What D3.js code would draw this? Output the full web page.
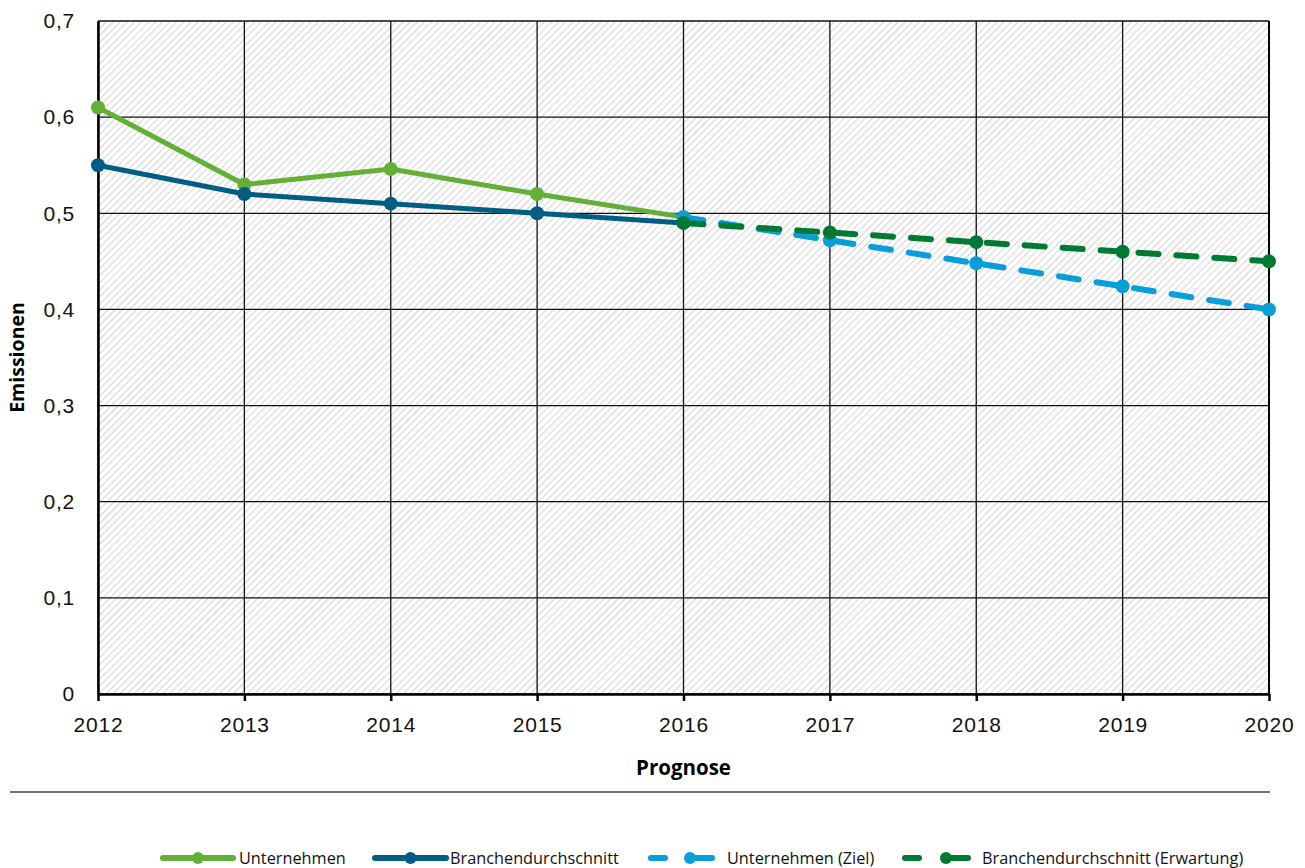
<!DOCTYPE html>
<html><head><meta charset="utf-8">
<script src="https://cdn.jsdelivr.net/npm/d3@7"></script>
<style>body{margin:0;background:#fff}svg{display:block;font-family:"Open Sans","Noto Sans",sans-serif}</style>
</head><body><svg id="c" width="1305" height="868"></svg>
<script>
const years = [2012,2013,2014,2015,2016,2017,2018,2019,2020];
const unternehmen = [0.61,0.53,0.546,0.52,0.496];
const branche = [0.55,0.52,0.51,0.50,0.49];
const ziel = [null,null,null,null,0.496,0.472,0.448,0.424,0.40];
const erwartung = [null,null,null,null,0.49,0.48,0.47,0.46,0.45];
const yTicks = [0,0.1,0.2,0.3,0.4,0.5,0.6,0.7];
const seriesNames = ["Unternehmen","Branchendurchschnitt","Unternehmen (Ziel)","Branchendurchschnitt (Erwartung)"];
const colors = ["#62b036","#005e85","#079fd9","#007a33"];

const svg = d3.select("#c");
const L=98,R=1269,T=21,B=694;
const x = d3.scalePoint().domain(years).range([L,R]);
const y = d3.scaleLinear().domain([0,0.7]).range([B,T]);

const defs = svg.append("defs");
const pat = defs.append("pattern").attr("id","hatch").attr("patternUnits","userSpaceOnUse")
  .attr("width",5).attr("height",5).attr("patternTransform","rotate(45)");
pat.append("rect").attr("width",5).attr("height",5).attr("fill","#fff");
pat.append("line").attr("x1",0).attr("y1",0).attr("x2",0).attr("y2",5).attr("stroke","#c9c9c9").attr("stroke-width",1.6);

svg.append("rect").attr("x",L).attr("y",T).attr("width",R-L).attr("height",B-T).attr("fill","url(#hatch)");

// grid
const g = svg.append("g");
g.selectAll(".hg").data(yTicks).join("line").attr("x1",L).attr("x2",R)
  .attr("y1",d=>y(d)).attr("y2",d=>y(d)).attr("stroke","#111").attr("stroke-width",1.3);
g.selectAll(".vg").data(years).join("line").attr("y1",T).attr("y2",B)
  .attr("x1",d=>x(d)).attr("x2",d=>x(d)).attr("stroke","#111").attr("stroke-width",1.3);

// axes
const ya = svg.append("g").attr("transform",`translate(${L},0)`)
  .call(d3.axisLeft(y).tickValues(yTicks).tickSize(0).tickPadding(23).tickFormat(d=>d3.format(".1f")(d).replace(".",",").replace(/^0,0$/,"0")));
ya.select(".domain").attr("stroke","#000").attr("stroke-width",2.5);
ya.selectAll("text").attr("font-size",21).attr("letter-spacing",0.8).attr("fill","#111");
const xa = svg.append("g").attr("transform",`translate(0,${B})`)
  .call(d3.axisBottom(x).tickSize(7).tickPadding(16).tickSizeOuter(0));
xa.select(".domain").attr("stroke","#000").attr("stroke-width",2.5);
xa.selectAll(".tick line").attr("stroke","#000").attr("stroke-width",2.5);
xa.selectAll("text").attr("font-size",21).attr("letter-spacing",0.8).attr("fill","#111");
svg.append("line").attr("x1",R).attr("x2",R).attr("y1",T).attr("y2",B).attr("stroke","#000").attr("stroke-width",2);

svg.append("text").attr("transform",`translate(24,${(T+B)/2}) rotate(-90)`).attr("text-anchor","middle")
  .attr("font-size",19.5).attr("font-weight","bold").text("Emissionen");
svg.append("text").attr("x",(L+R)/2).attr("y",775).attr("text-anchor","middle")
  .attr("font-size",20.5).attr("font-weight","bold").text("Prognose");
svg.append("line").attr("x1",10).attr("x2",1270).attr("y1",792).attr("y2",792).attr("stroke","#444").attr("stroke-width",1.3);

const data = [
  {v:unternehmen.map((d,i)=>[years[i],d]), c:colors[0], dash:null},
  {v:branche.map((d,i)=>[years[i],d]), c:colors[1], dash:null},
  {v:ziel.map((d,i)=>[years[i],d]).filter(d=>d[1]!==null), c:colors[2], dash:"20 18"},
  {v:erwartung.map((d,i)=>[years[i],d]).filter(d=>d[1]!==null), c:colors[3], dash:"20 18"}
];
const line = d3.line().x(d=>x(d[0])).y(d=>y(d[1]));
data.forEach(s=>{
  svg.append("path").attr("d",line(s.v)).attr("fill","none").attr("stroke",s.c)
    .attr("stroke-width",s.dash?6:5).attr("stroke-linecap",s.dash?"round":"butt").attr("stroke-linejoin","round")
    .attr("stroke-dasharray",s.dash);
  svg.selectAll(null).data(s.v).join("circle").attr("cx",d=>x(d[0])).attr("cy",d=>y(d[1])).attr("r",7).attr("fill",s.c);
});

// legend
const leg = [{x0:163,x1:233,tx:239},{x0:375,x1:446,tx:450},{x0:651,x1:712,tx:727},{x0:905,x1:968,tx:982}];
const ly = 858;
leg.forEach((p,i)=>{
  const gg = svg.append("g");
  if(i<2){
    gg.append("line").attr("x1",p.x0).attr("x2",p.x1).attr("y1",ly).attr("y2",ly).attr("stroke",colors[i]).attr("stroke-width",6).attr("stroke-linecap","round");
  } else {
    gg.append("line").attr("x1",p.x0).attr("x2",p.x0+14).attr("y1",ly).attr("y2",ly).attr("stroke",colors[i]).attr("stroke-width",6).attr("stroke-linecap","round");
    gg.append("line").attr("x1",p.x1-18).attr("x2",p.x1).attr("y1",ly).attr("y2",ly).attr("stroke",colors[i]).attr("stroke-width",6).attr("stroke-linecap","round");
  }
  gg.append("circle").attr("cx",(i<2)?(p.x0+p.x1)/2:p.x1-22).attr("cy",ly).attr("r",6).attr("fill",colors[i]);
  gg.append("text").attr("x",p.tx).attr("y",ly+6).attr("font-size",16.3).attr("fill","#111").text(seriesNames[i]);
});
</script></body></html>
